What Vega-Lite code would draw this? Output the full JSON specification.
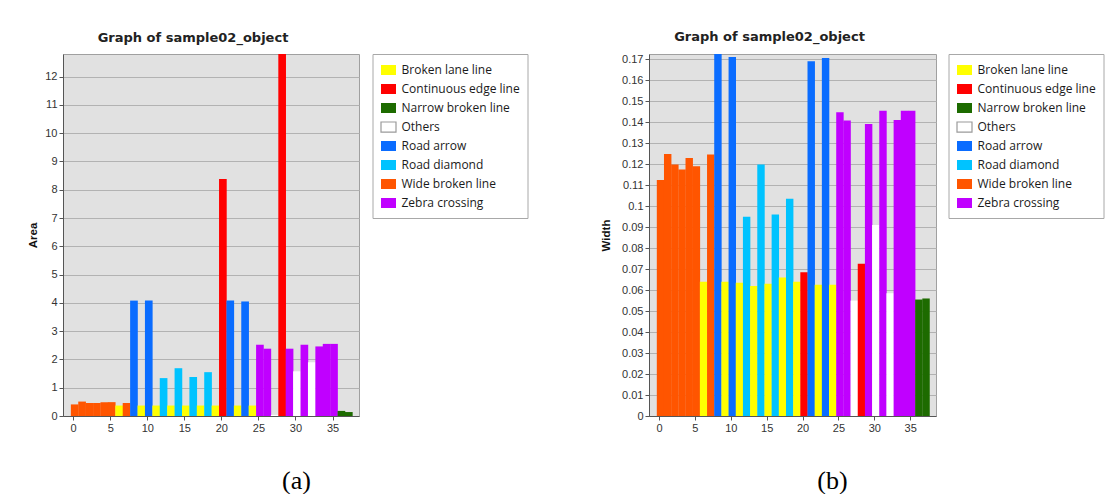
{
  "$schema": "https://vega.github.io/schema/vega-lite/v6.json",
  "background": "white",
  "padding": {"left": 27, "top": 30, "right": 0, "bottom": 0},
  "spacing": 71,
  "datasets": {
    "objects": [
      {"id": 0, "type": "Wide broken line", "area": 0.41, "width": 0.1124},
      {"id": 1, "type": "Wide broken line", "area": 0.51, "width": 0.1249},
      {"id": 2, "type": "Wide broken line", "area": 0.46, "width": 0.1199},
      {"id": 3, "type": "Wide broken line", "area": 0.46, "width": 0.1175},
      {"id": 4, "type": "Wide broken line", "area": 0.49, "width": 0.123},
      {"id": 5, "type": "Wide broken line", "area": 0.49, "width": 0.119},
      {"id": 6, "type": "Broken lane line", "area": 0.37, "width": 0.064},
      {"id": 7, "type": "Wide broken line", "area": 0.46, "width": 0.1246},
      {"id": 8, "type": "Road arrow", "area": 4.08, "width": 0.1745},
      {"id": 9, "type": "Broken lane line", "area": 0.37, "width": 0.064},
      {"id": 10, "type": "Road arrow", "area": 4.08, "width": 0.1711},
      {"id": 11, "type": "Broken lane line", "area": 0.37, "width": 0.0635},
      {"id": 12, "type": "Road diamond", "area": 1.34, "width": 0.095},
      {"id": 13, "type": "Broken lane line", "area": 0.37, "width": 0.062},
      {"id": 14, "type": "Road diamond", "area": 1.69, "width": 0.1199},
      {"id": 15, "type": "Broken lane line", "area": 0.37, "width": 0.063},
      {"id": 16, "type": "Road diamond", "area": 1.38, "width": 0.096},
      {"id": 17, "type": "Broken lane line", "area": 0.37, "width": 0.066},
      {"id": 18, "type": "Road diamond", "area": 1.55, "width": 0.1035},
      {"id": 19, "type": "Broken lane line", "area": 0.37, "width": 0.064},
      {"id": 20, "type": "Continuous edge line", "area": 8.38, "width": 0.0685},
      {"id": 21, "type": "Road arrow", "area": 4.08, "width": 0.169},
      {"id": 22, "type": "Broken lane line", "area": 0.37, "width": 0.0625},
      {"id": 23, "type": "Road arrow", "area": 4.05, "width": 0.1706},
      {"id": 24, "type": "Broken lane line", "area": 0.37, "width": 0.0625},
      {"id": 25, "type": "Zebra crossing", "area": 2.52, "width": 0.1447},
      {"id": 26, "type": "Zebra crossing", "area": 2.38, "width": 0.1408},
      {"id": 27, "type": "Others", "area": 0.04, "width": 0.055},
      {"id": 28, "type": "Continuous edge line", "area": 13.4, "width": 0.0725},
      {"id": 29, "type": "Zebra crossing", "area": 2.38, "width": 0.1392},
      {"id": 30, "type": "Others", "area": 1.58, "width": 0.091},
      {"id": 31, "type": "Zebra crossing", "area": 2.52, "width": 0.1455},
      {"id": 32, "type": "Others", "area": 1.9, "width": 0.0585},
      {"id": 33, "type": "Zebra crossing", "area": 2.46, "width": 0.141},
      {"id": 34, "type": "Zebra crossing", "area": 2.55, "width": 0.1455},
      {"id": 35, "type": "Zebra crossing", "area": 2.55, "width": 0.1455},
      {"id": 36, "type": "Narrow broken line", "area": 0.18, "width": 0.0555},
      {"id": 37, "type": "Narrow broken line", "area": 0.14, "width": 0.056}
    ]
  },
  "hconcat": [
    {
      "width": 296,
      "height": 362,
      "data": {"name": "objects"},
      "title": {"text": "Graph of sample02_object", "dx": -18},
      "mark": {"type": "bar", "width": 7.67, "xOffset": 1.5, "clip": true},
      "encoding": {
        "x": {
          "field": "id", "type": "quantitative",
          "scale": {"domain": [-0.7, 37.9], "nice": false, "zero": false},
          "axis": {
            "values": [0, 5, 10, 15, 20, 25, 30, 35],
            "title": "(a)", "titleX": 233, "titleY": 64
          }
        },
        "y": {
          "field": "area", "type": "quantitative", "stack": null,
          "scale": {"domain": [0, 12.8], "nice": false},
          "axis": {
            "values": [0, 1, 2, 3, 4, 5, 6, 7, 8, 9, 10, 11, 12],
            "title": "Area", "titlePadding": 6
          }
        },
        "color": {
          "field": "type", "type": "nominal",
          "scale": {
            "domain": ["Broken lane line", "Continuous edge line", "Narrow broken line", "Others", "Road arrow", "Road diamond", "Wide broken line", "Zebra crossing"],
            "range": ["#ffff00", "#ff0000", "#1d6b00", "#ffffff", "#0a6cff", "#00c3ff", "#ff5500", "#c000ff"]
          },
          "legend": {
            "legendX": 309.5, "legendY": 0,
            "encode": {
              "symbols": {
                "update": {
                  "stroke": [
                    {"test": "datum.label === 'Others'", "value": "#9a9a9a"},
                    {"value": "transparent"}
                  ],
                  "strokeWidth": {"value": 1.2}
                }
              }
            }
          }
        }
      }
    },
    {
      "width": 287,
      "height": 362,
      "data": {"name": "objects"},
      "title": {"text": "Graph of sample02_object", "dx": -23},
      "mark": {"type": "bar", "width": 7.43, "xOffset": 1.5, "clip": true},
      "encoding": {
        "x": {
          "field": "id", "type": "quantitative",
          "scale": {"domain": [-0.7, 37.9], "nice": false, "zero": false},
          "axis": {
            "values": [0, 5, 10, 15, 20, 25, 30, 35],
            "title": "(b)", "titleX": 183, "titleY": 64
          }
        },
        "y": {
          "field": "width", "type": "quantitative", "stack": null,
          "scale": {"domain": [0, 0.1725], "nice": false},
          "axis": {
            "values": [0, 0.01, 0.02, 0.03, 0.04, 0.05, 0.06, 0.07, 0.08, 0.09, 0.1, 0.11, 0.12, 0.13, 0.14, 0.15, 0.16, 0.17],
            "format": ".2~f",
            "title": "Width", "titlePadding": 10
          }
        },
        "color": {
          "field": "type", "type": "nominal",
          "scale": {
            "domain": ["Broken lane line", "Continuous edge line", "Narrow broken line", "Others", "Road arrow", "Road diamond", "Wide broken line", "Zebra crossing"],
            "range": ["#ffff00", "#ff0000", "#1d6b00", "#ffffff", "#0a6cff", "#00c3ff", "#ff5500", "#c000ff"]
          },
          "legend": {
            "legendX": 299.5, "legendY": 0,
            "encode": {
              "symbols": {
                "update": {
                  "stroke": [
                    {"test": "datum.label === 'Others'", "value": "#9a9a9a"},
                    {"value": "transparent"}
                  ],
                  "strokeWidth": {"value": 1.2}
                }
              }
            }
          }
        }
      }
    }
  ],
  "resolve": {"scale": {"color": "independent"}, "legend": {"color": "independent"}},
  "config": {
    "view": {"fill": "#e1e1e1", "stroke": "#a0a0a0", "strokeWidth": 1},
    "title": {
      "font": "DejaVu Sans", "fontSize": 13, "fontWeight": "bold",
      "color": "#222222", "anchor": "middle", "offset": 9
    },
    "axis": {
      "labelFont": "Liberation Sans", "labelFontSize": 11, "labelColor": "#333333",
      "domainColor": "#555555", "tickColor": "#555555", "tickSize": 4,
      "labelPadding": 2, "titleFont": "Liberation Sans", "titleFontWeight": "bold",
      "titleFontSize": 11.5, "titleColor": "#111111"
    },
    "axisX": {
      "grid": false, "labelFlush": false,
      "titleFont": "Liberation Serif", "titleFontSize": 26, "titleFontWeight": "normal",
      "titleColor": "#000000", "titleBaseline": "middle", "titleAnchor": null
    },
    "axisY": {"grid": true, "gridColor": "#b2b2b2", "gridWidth": 1},
    "legend": {
      "orient": "none", "title": null,
      "strokeColor": "#a8a8a8", "fillColor": "#ffffff", "padding": 7.5,
      "symbolType": "M-1,-0.67L1,-0.67L1,0.67L-1,0.67Z", "symbolSize": 225,
      "symbolOpacity": 1,
      "labelFont": "Open Sans", "labelFontSize": 12, "labelColor": "#1a1a1a",
      "labelOffset": 4.5, "rowPadding": 3, "labelLimit": 200
    }
  }
}
